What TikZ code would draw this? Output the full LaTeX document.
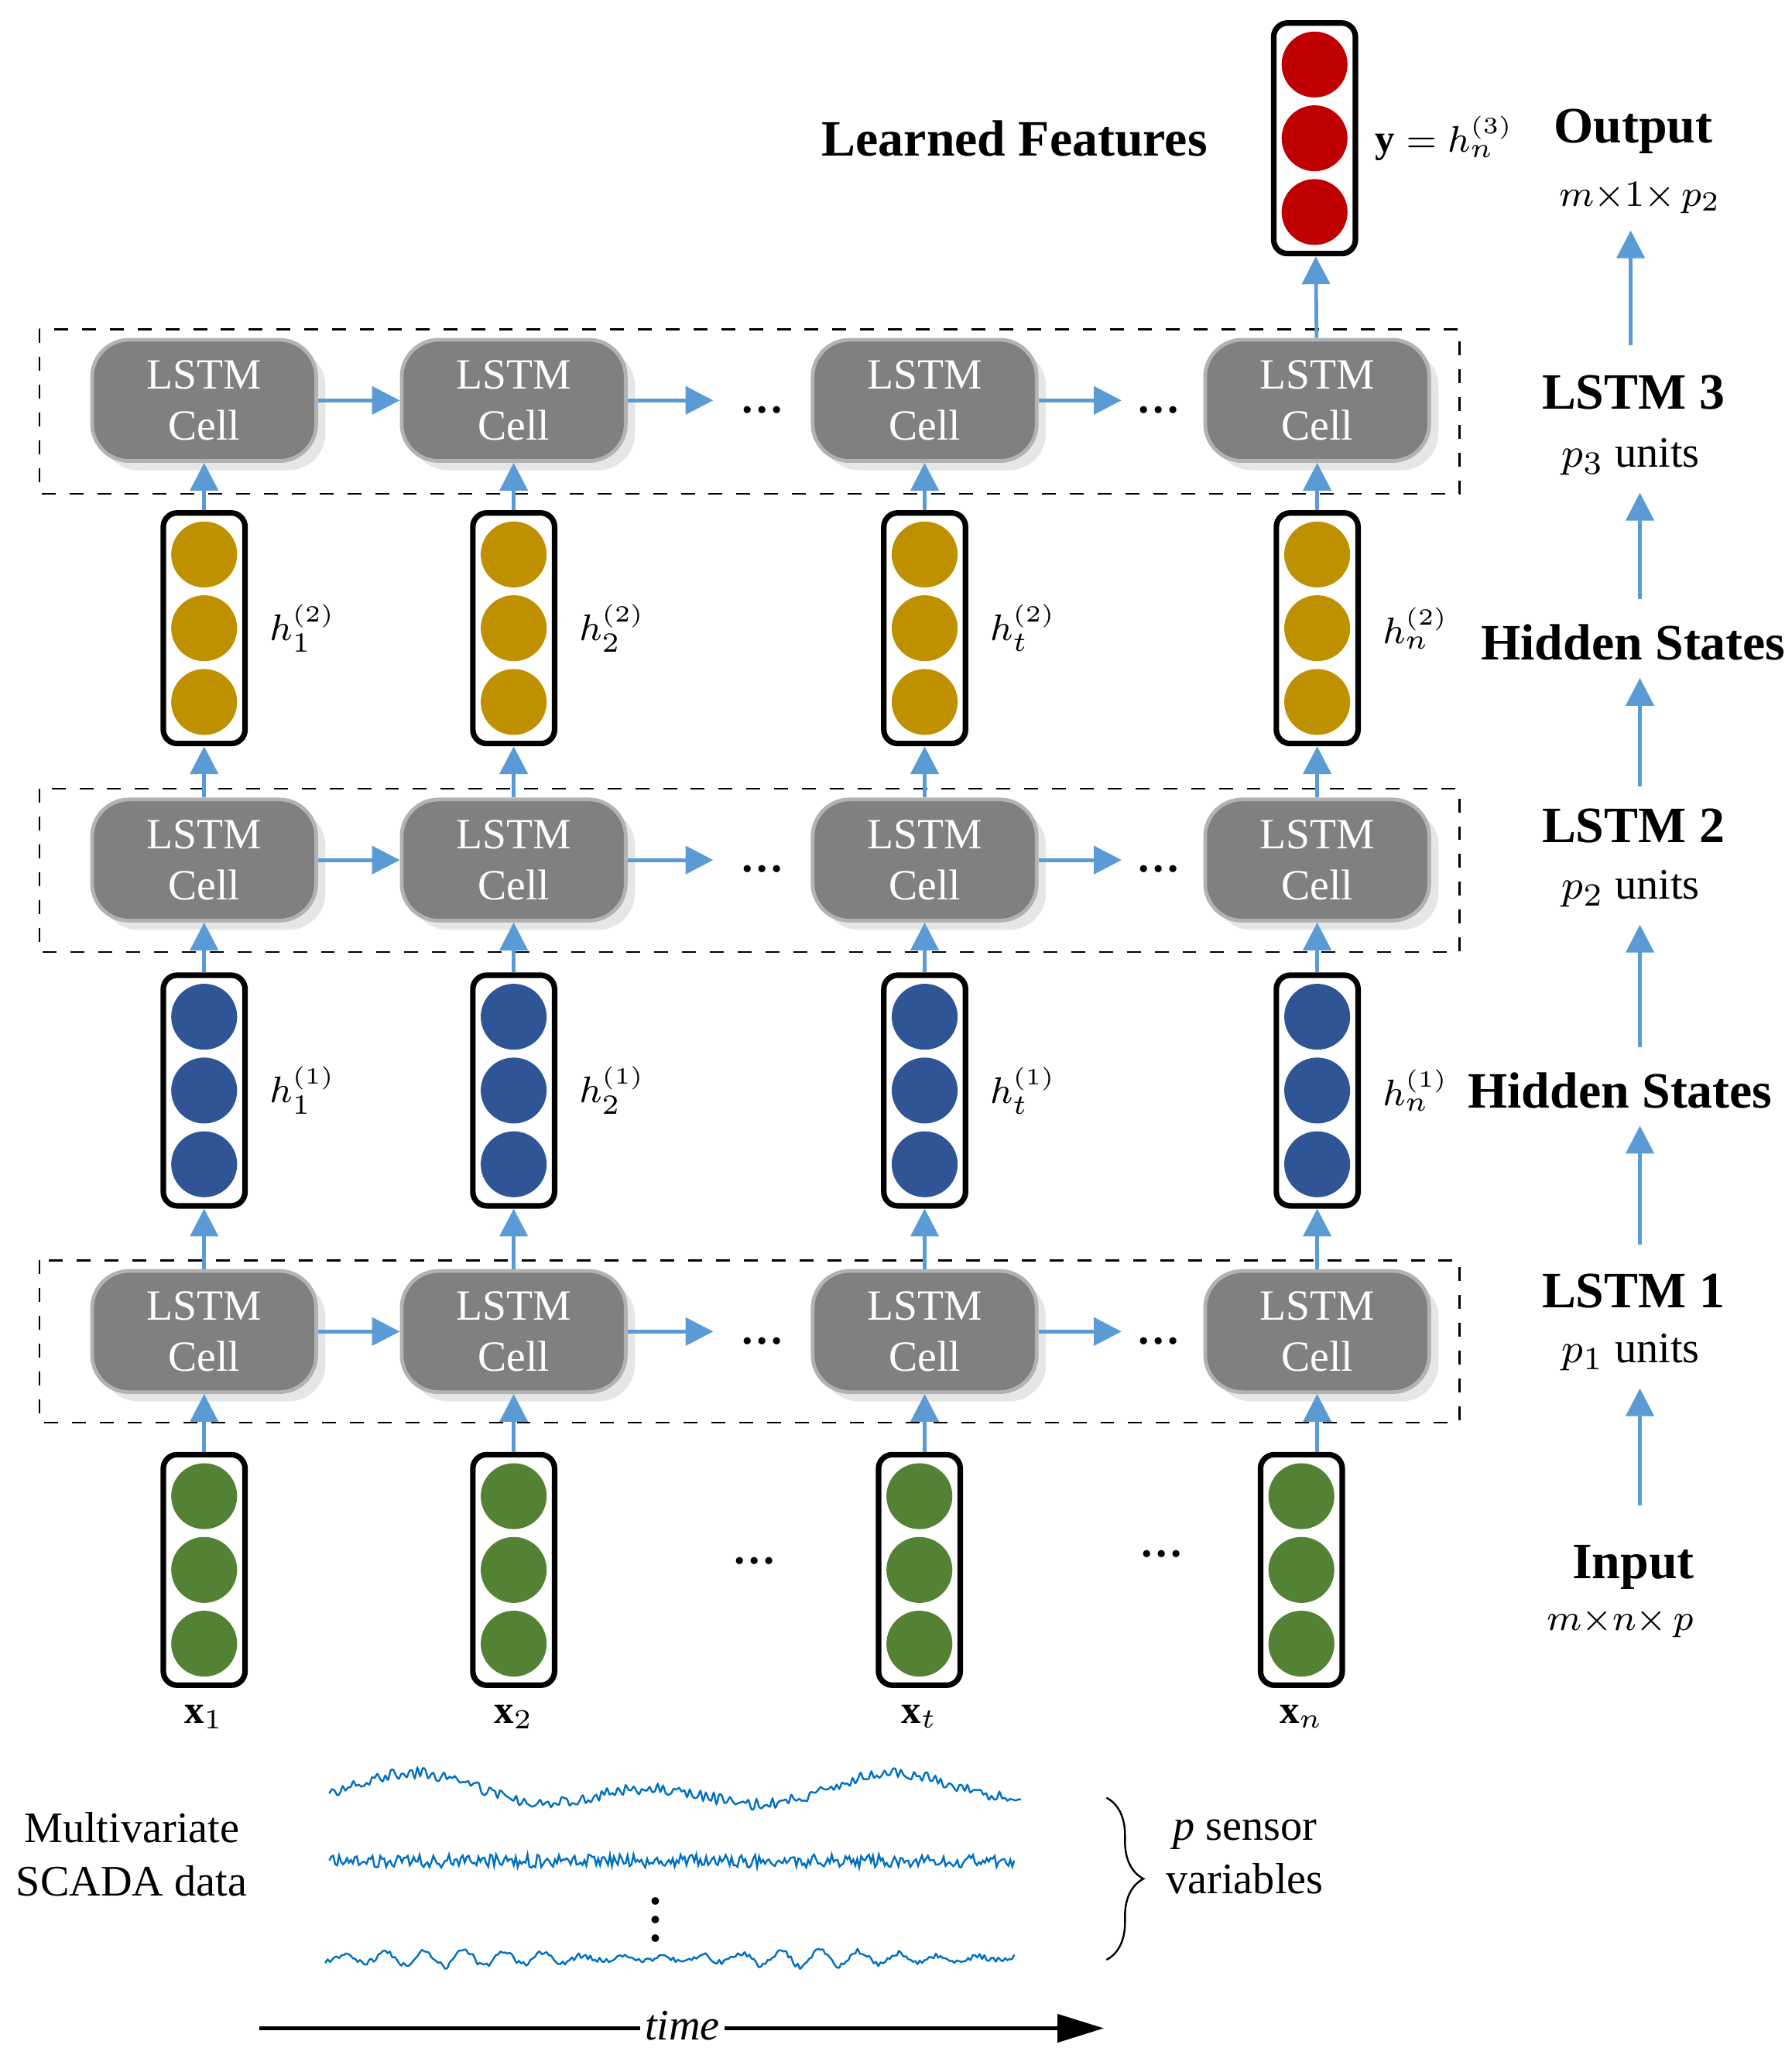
\documentclass[tikz,border=0pt]{standalone}
\usepackage{fontspec}
\setmainfont{Liberation Serif}
\usepackage{amsmath}
\usetikzlibrary{arrows.meta,decorations.pathreplacing,shadows}
\definecolor{cellgray}{RGB}{128,128,128}
\definecolor{arrblue}{RGB}{91,155,213}
\definecolor{cgold}{RGB}{191,144,0}
\definecolor{cblue}{RGB}{47,85,151}
\definecolor{cgreen}{RGB}{84,130,53}
\definecolor{cred}{RGB}{192,0,0}
\definecolor{sigblue}{RGB}{0,112,192}
\begin{document}
\begin{tikzpicture}[x=0.01cm,y=-0.01cm]
		\tikzstyle{every path}=[thick]
		\tikzstyle{lstm}=[draw=gray!60,fill=cellgray,rounded corners=8pt,minimum width=1.7cm,minimum height=0.92cm,
		text=white,align=center,font=\fontsize{9.3}{11}\selectfont,drop shadow={opacity=0.2,shadow xshift=2pt,shadow yshift=-2pt}]
		\tikzstyle{vec}=[draw,very thick,rounded corners=3pt,minimum width=0.62cm,minimum height=1.75cm]
		\tikzstyle{unit}=[circle,minimum size=0.5cm,inner sep=0pt]
		\tikzstyle{layer}=[draw,dashed,thin]
		\tikzstyle{flow}=[draw=arrblue,-{Triangle[length=6pt,width=6pt]}]
		\tikzstyle{big}=[font=\bfseries\fontsize{11}{13}\selectfont]
		\tikzstyle{small}=[font=\fontsize{9.4}{11.5}\selectfont]
		\tikzstyle{lab}=[font=\fontsize{8.5}{10}\selectfont]
		\tikzstyle{signal}=[draw=sigblue,thin]
		
		\useasboundingbox (0,0) rectangle (1360,1555);
		
		%% dashed layer frames
		\draw[layer] (30,250) rectangle (1108,375);
		\draw[layer] (30,599) rectangle (1108,723);
		\draw[layer] (30,957) rectangle (1108,1080);
		
		%% LSTM cells
		\foreach \i/\x in {1/155,2/390,3/702,4/1000}{
			\node[lstm] (ca\i) at (\x,1011) {LSTM\\Cell};
			\node[lstm] (cb\i) at (\x,653) {LSTM\\Cell};
			\node[lstm] (cc\i) at (\x,304) {LSTM\\Cell};
		}
		
		%% hidden and input vectors
		\foreach \i/\x/\xi in {1/155/155,2/390/390,3/702/698,4/1000/988}{
			\node[vec] (va\i) at (\xi,1192) {};
			\node[vec] (vb\i) at (\x,828) {};
			\node[vec] (vc\i) at (\x,477) {};
			\foreach \d in {-56,0,56}{
				\node[unit,fill=cgreen] at (\xi,1192+\d) {};
				\node[unit,fill=cblue] at (\x,828+\d) {};
				\node[unit,fill=cgold] at (\x,477+\d) {};
			}
			\draw[flow] (ca\i.south |- va\i.north) -- (ca\i);
			\draw[flow] (ca\i) -- (vb\i);
			\draw[flow] (vb\i) -- (cb\i);
			\draw[flow] (cb\i) -- (vc\i);
			\draw[flow] (vc\i) -- (cc\i);
		}
		
		%% output vector
		\node[vec] (out) at (998,105) {};
		\foreach \d in {-56,0,56}
			\node[unit,fill=cred] at (998,105+\d) {};
		\draw[flow] (cc4) -- (out);
		
		%% horizontal links
		\foreach \r in {a,b,c}{
			\draw[flow] (c\r1) -- (c\r2);
			\coordinate (p\r1) at ([xshift=0.65cm]c\r2.east);
			\coordinate (p\r2) at ([xshift=0.63cm]c\r3.east);
			\draw[flow] (c\r2) -- (p\r1);
			\draw[flow] (c\r3) -- (p\r2);
			\node[small] at ([xshift=0.37cm,yshift=-2pt]p\r1) {\textbf{\dots}};
			\node[small] at ([xshift=0.28cm,yshift=-2pt]p\r2) {\textbf{\dots}};
		}
		\node[small] at (573,1185) {\textbf{\dots}};
		\node[small] at (882,1180) {\textbf{\dots}};
		
		%% vector labels
		\foreach \i/\s in {1/1,2/2,3/t,4/n}{
			\node[lab,right=1pt] at (vc\i.east) {$h_{\s}^{\scriptscriptstyle(2)}$};
			\node[lab,right=1pt] at (vb\i.east) {$h_{\s}^{\scriptscriptstyle(1)}$};
			\node[lab,below=0pt] at (va\i.south) {$\mathbf{x}_{\s}$};
		}
		\node[big,left=10pt] (learned) at (out.west) {Learned Features};
		\node[lab,right=0pt] (ylab) at (out.east) {$\mathbf{y}=h_{n}^{\scriptscriptstyle(3)}$};
		
		%% right column
		\node[big] (outp) at (1240,100) {Output};
		\node[lab] (outd) at (1245,150) {$m{\times}1{\times}\,p_2$};
		\node[big] (l3) at (1240,298) {LSTM 3};
		\node[small] (u3) at (1238,347) {$p_3$ units};
		\node[big] (hs2) at (1240,488) {Hidden States};
		\node[big] (l2) at (1240,627) {LSTM 2};
		\node[small] (u2) at (1238,675) {$p_2$ units};
		\node[big] (hs1) at (1230,828) {Hidden States};
		\node[big] (l1) at (1240,980) {LSTM 1};
		\node[small] (u1) at (1238,1027) {$p_1$ units};
		\node[big] (inp) at (1240,1190) {Input};
		\node[lab] (inpd) at (1230,1232) {$m{\times}n{\times}\,p$};
		\coordinate (r1) at (1238,262);
		\coordinate (r2) at (1245,455);
		\coordinate (r3) at (1245,597);
		\coordinate (r4) at (1245,795);
		\coordinate (r5) at (1245,945);
		\coordinate (r6) at (1245,1143);
		\draw[flow] (r1) -- (r1 |- outd.south);
		\draw[flow] (r2) -- (r2 |- u3.south);
		\draw[flow] (r3) -- (r3 |- hs2.south);
		\draw[flow] (r4) -- (r4 |- u2.south);
		\draw[flow] (r5) -- (r5 |- hs1.south);
		\draw[flow] (r6) -- (r6 |- u1.south);
		
		%% SCADA signals
		\node[small,align=center] (scada) at (100,1408) {Multivariate\\SCADA data};
		\pgfmathsetseed{7}
		\draw[signal] plot[domain=250:775,samples=260,smooth] (\x,{1360+8*sin(\x*2)+6*sin(\x*0.9)+4*rand});
		\draw[signal] plot[domain=250:770,samples=350] (\x,{1413+5*rand});
		\draw[signal] plot[domain=247:770,samples=300,smooth] (\x,{1487+6*sin(\x*12)*(0.6+0.4*sin(\x*1.3))+2*rand});
		\node[font=\bfseries] at (498,1447) {$\vdots$};
		\coordinate (b1) at (840,1365);
		\coordinate (b2) at (840,1488);
		\draw[thin,decorate,decoration={brace,amplitude=8pt}] (b1) -- (b2);
		\node[small,align=center] (sens) at (945,1410) {\textit{p} sensor\\variables};
		
		%% time axis
		\coordinate (t0) at (197,1540);
		\coordinate (t1) at (838,1540);
		\draw[-{Triangle[length=10pt,width=6pt]}] (t0) -- (t1);
		\node[inner sep=1pt,fill=white,font=\itshape\fontsize{9.4}{11}\selectfont] at (518,1538) {time};
\end{tikzpicture}
\end{document}
